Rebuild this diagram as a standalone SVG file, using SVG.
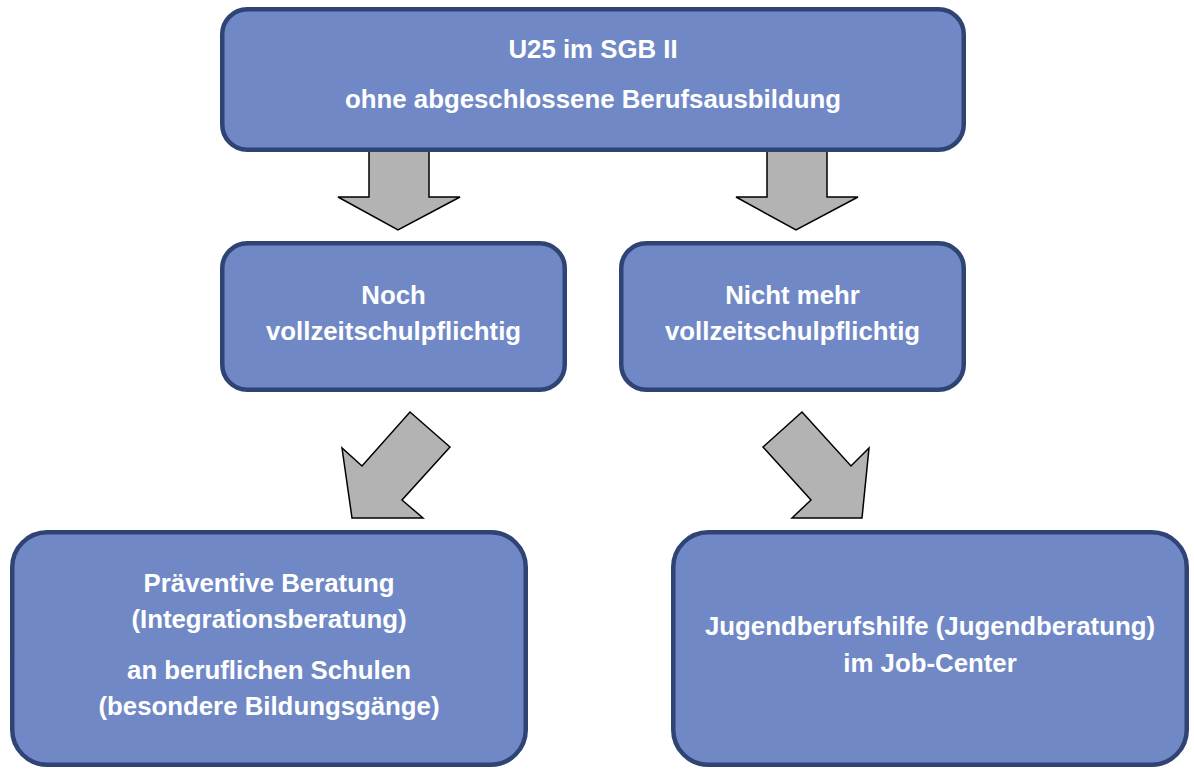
<svg xmlns="http://www.w3.org/2000/svg" width="1194" height="769" viewBox="0 0 1194 769">
<style>
.box{fill:#7089c6;stroke:#2f4374;stroke-width:4.5}
.arr{fill:#b3b3b3;stroke:#000;stroke-width:1.5;stroke-linejoin:miter}
.t{font-family:"Liberation Sans",Arial,sans-serif;font-weight:bold;font-size:25.8px;fill:#fff;text-anchor:middle}
</style>
<rect width="1194" height="769" fill="#fff"/>
<g id="connectors">
<polygon class="arr" points="369,148 429,148 429,197 460,197 398,230 338,197 369,197"/>
<polygon class="arr" points="767,148 827,148 827,197 858,197 796,230 736,197 767,197"/>
<polygon class="arr" points="410,412 450,447 402,500 423,518 352,518 342,448 362,466"/>
<polygon class="arr" points="802,412 763,447 811,500 792,518 862,518 869,448 851,466"/>
</g>
<g id="top">
<rect class="box" x="222.25" y="9.25" width="741.5" height="140.5" rx="25"/>
<text class="t" x="593" y="58">U25 im SGB II</text>
<text class="t" x="593" y="108">ohne abgeschlossene Berufsausbildung</text>
</g>
<g id="noch">
<rect class="box" x="222.25" y="243.25" width="342.5" height="146.5" rx="25"/>
<text class="t" x="393.5" y="304">Noch</text>
<text class="t" x="393.5" y="340">vollzeitschulpflichtig</text>
</g>
<g id="nichtmehr">
<rect class="box" x="621.25" y="243.25" width="342.5" height="146.5" rx="25"/>
<text class="t" x="792.5" y="304">Nicht mehr</text>
<text class="t" x="792.5" y="340">vollzeitschulpflichtig</text>
</g>
<g id="praeventiv">
<rect class="box" x="12.25" y="532.25" width="513.5" height="232.5" rx="35"/>
<text class="t" x="269" y="592">Präventive Beratung</text>
<text class="t" x="269" y="628">(Integrationsberatung)</text>
<text class="t" x="269" y="679">an beruflichen Schulen</text>
<text class="t" x="269" y="715">(besondere Bildungsgänge)</text>
</g>
<g id="jugend">
<rect class="box" x="673.25" y="532.25" width="513.5" height="232.5" rx="35"/>
<text class="t" x="930" y="635">Jugendberufshilfe (Jugendberatung)</text>
<text class="t" x="930" y="672">im Job-Center</text>
</g>
</svg>
